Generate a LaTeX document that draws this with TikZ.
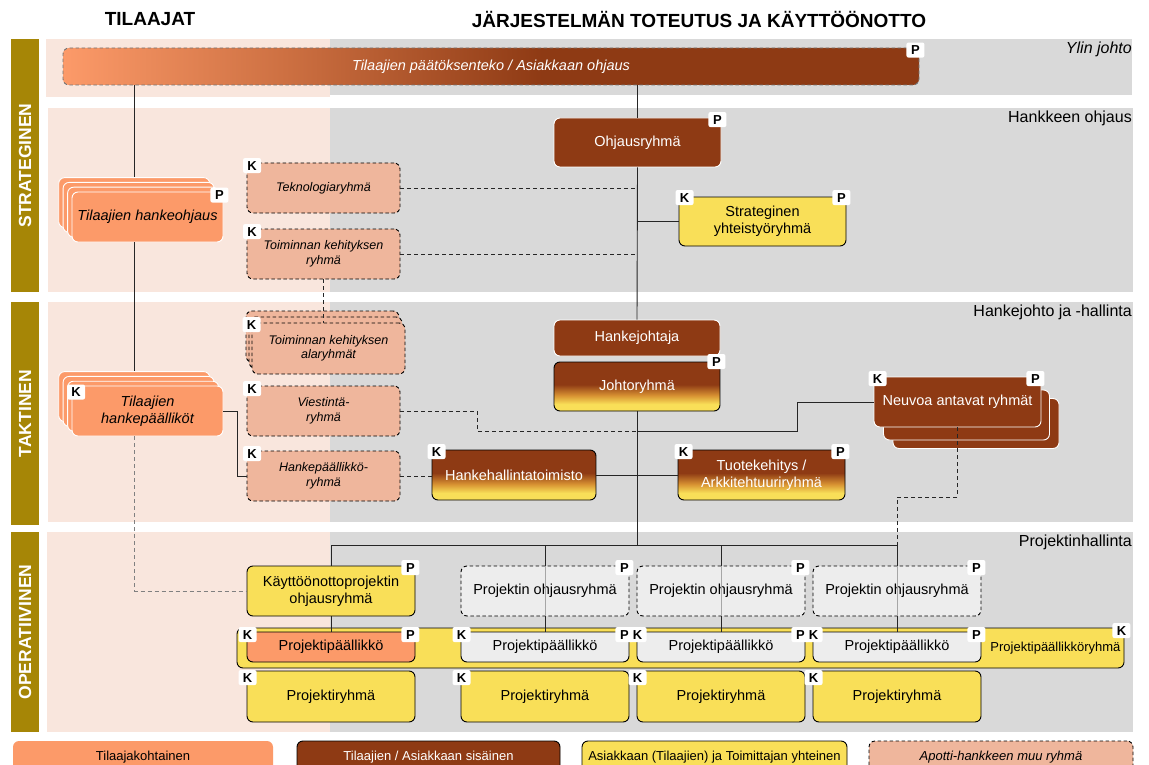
\documentclass[tikz,border=0pt]{standalone}
\usepackage{fontspec}
\setmainfont{Liberation Sans}
\definecolor{olivec}{RGB}{166,134,6}
\definecolor{pinkbg}{RGB}{249,230,221}
\definecolor{graybg}{RGB}{217,217,217}
\definecolor{salmonc}{RGB}{252,154,105}
\definecolor{brownc}{RGB}{142,58,20}
\definecolor{yellowc}{RGB}{249,223,88}
\definecolor{pinkbox}{RGB}{239,182,156}
\definecolor{lgraybox}{RGB}{237,237,237}
\definecolor{midby}{RGB}{215,145,50}
\definecolor{midsb}{RGB}{205,112,66}
\pgfdeclareverticalshading{byshade}{100bp}{color(0bp)=(yellowc); color(32bp)=(yellowc); color(41bp)=(midby); color(52bp)=(brownc); color(100bp)=(brownc)}
\pgfdeclarehorizontalshading{sbshade}{100bp}{color(0bp)=(salmonc); color(25bp)=(salmonc); color(38bp)=(midsb); color(53bp)=(brownc); color(100bp)=(brownc)}
\newcommand{\fsz}[2]{\fontsize{#1}{#2}\selectfont}
\tikzset{
  base/.style={rounded corners=6pt, line width=0.9pt, align=center, inner sep=1pt, font=\fsz{14.5}{17}},
  wh/.style 2 args={minimum width=#1, minimum height=#2},
  brownbox/.style={base, fill=brownc, draw=white, text=white},
  gradbox/.style={base, shade, shading=byshade, draw=black, text=white},
  yellowbox/.style={base, fill=yellowc, draw=black},
  salbox/.style={base, fill=salmonc, draw=white, font=\fsz{14.5}{17}\itshape},
  pinkdash/.style={base, fill=pinkbox, draw=black, dash pattern=on 3.5pt off 2.5pt, font=\fsz{12.5}{14.5}\itshape},
  graydash/.style={base, fill=lgraybox, draw=black, dash pattern=on 3.5pt off 2.5pt},
  badge/.style={fill=white, rounded corners=2pt, minimum width=18, minimum height=15, inner sep=0pt, font=\fsz{13}{13}\bfseries},
  bandtext/.style={text=white, font=\fsz{17.5}{19}\bfseries, rotate=90},
  rowlabel/.style={anchor=east, font=\fsz{16}{18}, inner sep=0pt},
  conn/.style={line width=0.9pt, draw=black!85},
  dconn/.style={line width=0.9pt, draw=black!85, dash pattern=on 4pt off 3pt},
  legendbox/.style={base, minimum height=32, font=\fsz{13}{15}},
}
\begin{document}
\begin{tikzpicture}[x=1pt,y=-1pt]
\useasboundingbox (0,0) rectangle (1149,765);
\fill[white] (0,0) rectangle (1149,765);
% titles
\node[font=\fsz{19}{21}\bfseries] (t1) at (150,19) {TILAAJAT};
\node[font=\fsz{19}{21}\bfseries] (t2) at (699,19) {JÄRJESTELMÄN TOTEUTUS JA KÄYTTÖÖNOTTO};
% bands
\fill[olivec] (11,39) rectangle (39,292);
\fill[olivec] (11,302) rectangle (39,525);
\fill[olivec] (11,532) rectangle (39,732);
\node[bandtext] (b1) at (25,165.5) {STRATEGINEN};
\node[bandtext] (b2) at (25,413.5) {TAKTINEN};
\node[bandtext] (b3) at (25,632) {OPERATIIVINEN};
% rows
\fill[pinkbg] (46,39) rectangle (330,97);
\fill[graybg] (330,39) rectangle (1132,95);
\fill[pinkbg] (48,108) rectangle (330,292);
\fill[graybg] (330,108) rectangle (1133,292);
\fill[pinkbg] (48,302) rectangle (330,522);
\fill[graybg] (330,302) rectangle (1133,522);
\fill[pinkbg] (47,532) rectangle (330,732);
\fill[graybg] (330,532) rectangle (1133,732);
\node[rowlabel, font=\fsz{16}{18}\itshape] (r1) at (1132,49) {Ylin johto};
\node[rowlabel] (r2) at (1132,118) {Hankkeen ohjaus};
\node[rowlabel] (r3) at (1132,312) {Hankejohto ja -hallinta};
\node[rowlabel] (r4) at (1132,542) {Projektinhallinta};

% top bar
\node[base, wh={856}{37}, shade, shading=sbshade, draw=black!55, dash pattern=on 3.5pt off 2.5pt, text=white, font=\fsz{14.5}{17}\itshape] (top) at (491,66.5) {Tilaajien päätöksenteko / Asiakkaan ohjaus};

% strategic
\node[brownbox, wh={167}{49}] (ohj) at (637.5,142.5) {Ohjausryhmä};
\node[yellowbox, wh={167}{49}] (strat) at (762.5,221.5) {Strateginen\\yhteistyöryhmä};
\node[salbox, wh={151}{50}] (thoD) at (134.2,202.6) {};
\node[salbox, wh={151}{50}] (thoC) at (138.6,207.4) {};
\node[salbox, wh={151}{50}] (thoB) at (143.1,212.2) {};
\node[salbox, wh={151}{50}] (tho) at (147.5,217) {Tilaajien hankeohjaus};
\node[pinkdash, wh={153}{50}] (tek) at (323.5,188) {Teknologiaryhmä};
\node[pinkdash, wh={153}{50}] (tkr) at (323.5,254) {Toiminnan kehityksen\\ryhmä};

% tactical
\node[pinkdash, wh={153}{51}] (alaC) at (322.5,336.5) {};
\node[pinkdash, wh={153}{51}] (alaB) at (325.5,342.5) {};
\node[pinkdash, wh={153}{51}] (ala) at (328.5,348.5) {Toiminnan kehityksen\\alaryhmät};
\node[pinkdash, wh={153}{50}] (vie) at (323.5,411) {Viestintä-\\ryhmä};
\node[pinkdash, wh={153}{50}] (hpr) at (323.5,476) {Hankepäällikkö-\\ryhmä};
\node[salbox, wh={151}{50}] (thpD) at (134.2,396.6) {};
\node[salbox, wh={151}{50}] (thpC) at (138.6,401.4) {};
\node[salbox, wh={151}{50}] (thpB) at (143.1,406.2) {};
\node[salbox, wh={151}{50}] (thp) at (147.5,411) {Tilaajien\\hankepäälliköt};
\node[brownbox, wh={166}{36}] (hj) at (637,338) {Hankejohtaja};
\node[gradbox, wh={166}{49}] (jr) at (637,386.5) {Johtoryhmä};
\node[brownbox, wh={166}{50}] (neuC) at (976,423.5) {};
\node[brownbox, wh={166}{50}] (neuB) at (966.5,415) {};
\node[brownbox, wh={167}{50}] (neu) at (957.5,402) {Neuvoa antavat ryhmät};
\node[gradbox, wh={164}{50}] (hht) at (514,475) {Hankehallintatoimisto};
\node[gradbox, wh={167}{50}] (tuo) at (761.5,475) {Tuotekehitys /\\Arkkitehtuuriryhmä};

% operative
\node[yellowbox, wh={887}{40}, text width=880, align=right, font=\fsz{13}{15}] (ppr) at (680.5,648) {Projektipäällikköryhmä};
\node[yellowbox, wh={168}{50}] (kop) at (331,591) {Käyttöönottoprojektin\\ohjausryhmä};
\node[graydash, wh={168}{50}] (po1) at (545,591) {Projektin ohjausryhmä};
\node[graydash, wh={168}{50}] (po2) at (721,591) {Projektin ohjausryhmä};
\node[graydash, wh={168}{50}] (po3) at (897,591) {Projektin ohjausryhmä};
\node[base, fill=salmonc, draw=black, wh={168}{30}] (pp1) at (331,647) {Projektipäällikkö};
\node[base, fill=lgraybox, draw=black, wh={168}{30}] (pp2) at (545,647) {Projektipäällikkö};
\node[base, fill=lgraybox, draw=black, wh={168}{30}] (pp3) at (721,647) {Projektipäällikkö};
\node[base, fill=lgraybox, draw=black, wh={168}{30}] (pp4) at (897,647) {Projektipäällikkö};
\node[yellowbox, wh={168}{51}] (pr1) at (331,696.5) {Projektiryhmä};
\node[yellowbox, wh={168}{51}] (pr2) at (545,696.5) {Projektiryhmä};
\node[yellowbox, wh={168}{51}] (pr3) at (721,696.5) {Projektiryhmä};
\node[yellowbox, wh={168}{51}] (pr4) at (897,696.5) {Projektiryhmä};

% legend
\node[legendbox, minimum width=260, fill=salmonc] (l1) at (143,757) {Tilaajakohtainen};
\node[legendbox, minimum width=263, fill=brownc, draw=black, text=white] (l2) at (428.5,757) {Tilaajien / Asiakkaan sisäinen};
\node[legendbox, minimum width=265, fill=yellowc, draw=black] (l3) at (714.5,757) {Asiakkaan (Tilaajien) ja Toimittajan yhteinen};
\node[legendbox, minimum width=264, fill=pinkbox, draw=black, dash pattern=on 3.5pt off 2.5pt, font=\fsz{13}{15}\itshape] (l4) at (1001,757) {Apotti-hankkeen muu ryhmä};

% connectors
\coordinate (busL) at (331,545);
\coordinate (busR) at (897,545);
\coordinate (vj) at (477,431);
\coordinate (nj) at (797,431);
\coordinate (tj) at (237,476);
\coordinate (nd) at (897,497);
\draw[conn] (thoD.north |- top.south) -- (thoD.north);
\draw[conn] (thoD.north |- tho.south) -- (thpD.north);
\draw[dconn, draw=black!50] (thpD.north |- thp.south) |- (kop.west);
\draw[conn] (ohj.north |- top.south) -- (ohj.north);
\draw[conn] (ohj.south) -- (hj.north);
\draw[conn] (jr.south) -- (jr.south |- busL);
\draw[conn] (ohj.south |- strat.west) -- (strat.west);
\draw[dconn] (tek.east) -- (tek.east -| ohj.south);
\draw[dconn] (tkr.east) -- (tkr.east -| ohj.south);
\draw[dconn] (tkr.south) -- (tkr.south |- ala.north);
\draw[dconn] (vie.east) -| (vj) -- (vj -| jr.south);
\draw[conn] (neu.west) -| (nj) -- (nj -| jr.south);
\draw[dconn] (neu.south) |- (nd) -- (busR);
\draw[conn] (hht.east) -- (tuo.west);
\draw[dconn] (hpr.east) -- (hht.west |- hpr.east);
\draw[conn] (thp.east) -| (tj) -- (hpr.west);
\draw[conn] (busL) -- (busR);
\draw[conn] (busL) -- (kop.north);
\draw[conn] (kop.south) -- (pp1.north);
\foreach \i/\j in {1/2,2/3,3/4}{
  \draw[conn] (po\i.north |- busL) -- (po\i.north);
  \draw[line width=0.5pt, draw=black!35] (po\i.north) -- (po\i.south);
  \draw[conn] (po\i.south) -- (pp\j.north);
}

% badges
\node[badge] (k0) at ([shift={(-4,2.5)}]top.north east) {P};
\node[badge] (k1) at ([shift={(-4,2)}]ohj.north east) {P};
\node[badge] (k2) at ([shift={(6,1)}]strat.north west) {K};
\node[badge] (k3) at ([shift={(-5,1)}]strat.north east) {P};
\node[badge] (k4) at ([shift={(-4,3.5)}]tho.north east) {P};
\node[badge] (k5) at ([shift={(5.5,3)}]tek.north west) {K};
\node[badge] (k6) at ([shift={(5.5,3)}]tkr.north west) {K};
\node[badge] (k7) at ([shift={(0,2)}]ala.north west) {K};
\node[badge] (k8) at ([shift={(5.5,3)}]vie.north west) {K};
\node[badge] (k9) at ([shift={(5.5,3)}]hpr.north west) {K};
\node[badge] (k10) at ([shift={(4.5,6.5)}]thp.north west) {K};
\node[badge] (k11) at ([shift={(-4,0)}]jr.north east) {P};
\node[badge] (k12) at ([shift={(4,2)}]neu.north west) {K};
\node[badge] (k13) at ([shift={(-6,2)}]neu.north east) {P};
\node[badge] (k14) at ([shift={(5,2)}]hht.north west) {K};
\node[badge] (k15) at ([shift={(6,2)}]tuo.north west) {K};
\node[badge] (k16) at ([shift={(-5,2)}]tuo.north east) {P};
\node[badge] (k17) at ([shift={(-5,2)}]kop.north east) {P};
\node[badge] (k18) at ([shift={(-5,2)}]po1.north east) {P};
\node[badge] (k19) at ([shift={(-5,2)}]po2.north east) {P};
\node[badge] (k20) at ([shift={(-5,2)}]po3.north east) {P};
\node[badge] (k21) at ([shift={(-3,3)}]ppr.north east) {K};
\foreach \n in {1,2,3,4}{
  \node[badge] (kpp\n) at ([shift={(1,3)}]pp\n.north west) {K};
  \node[badge] (ppp\n) at ([shift={(-5,3)}]pp\n.north east) {P};
  \node[badge] (kpr\n) at ([shift={(1,7)}]pr\n.north west) {K};
}
\end{tikzpicture}
\end{document}
